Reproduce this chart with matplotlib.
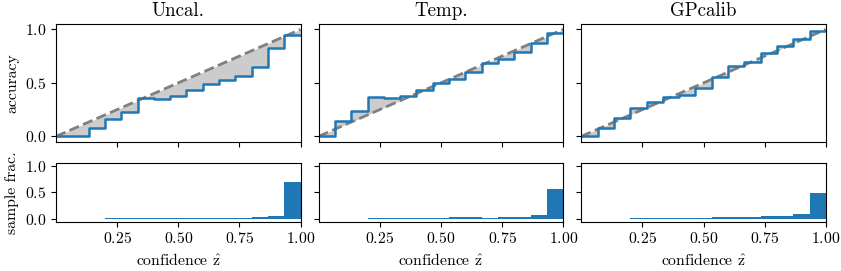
import numpy as np
import matplotlib
matplotlib.use('Agg')
import matplotlib.pyplot as plt

plt.rcParams['font.family'] = 'serif'
plt.rcParams['font.serif'] = ['cmr10']
plt.rcParams['mathtext.fontset'] = 'cm'
plt.rcParams['axes.formatter.use_mathtext'] = True
plt.rcParams['font.size'] = 11.3

# 15 equal-width confidence bins on [0, 1]
n_bins = 15
titles = ['Uncal.', 'Temp.', 'GPcalib']

# accuracy per bin
acc_uncal = [0.0, 0.0, 0.08, 0.16, 0.227, 0.354, 0.345, 0.38, 0.43, 0.49,
             0.525, 0.56, 0.65, 0.83, 0.945]
acc_temp = [0.0, 0.146, 0.233, 0.366, 0.357, 0.379, 0.429, 0.494, 0.54, 0.606,
            0.69, 0.72, 0.79, 0.87, 0.97]
acc_gp = [0.0, 0.078, 0.174, 0.267, 0.317, 0.366, 0.388, 0.45, 0.556, 0.658,
          0.696, 0.78, 0.845, 0.91, 0.984]

# fraction of samples per bin
frac_uncal = [0.0, 0.004, 0.006, 0.010, 0.011, 0.013, 0.016, 0.020, 0.022, 0.022,
              0.024, 0.026, 0.035, 0.06, 0.685]
frac_temp = [0.0, 0.005, 0.009, 0.011, 0.013, 0.016, 0.018, 0.025, 0.030, 0.030,
             0.028, 0.030, 0.045, 0.075, 0.556]
frac_gp = [0.0, 0.004, 0.009, 0.013, 0.015, 0.018, 0.022, 0.028, 0.04, 0.042,
           0.042, 0.05, 0.065, 0.10, 0.488]

accs = [acc_uncal, acc_temp, acc_gp]
fracs = [frac_uncal, frac_temp, frac_gp]

edges = np.linspace(0, 1, n_bins + 1)

fig, axes = plt.subplots(2, 3, figsize=(8.41, 2.71), dpi=100,
                         gridspec_kw={'height_ratios': [2, 1]},
                         sharex=True)
fig.subplots_adjust(left=0.0666, right=0.982, top=0.9114, bottom=0.1819,
                    wspace=0.074, hspace=0.24)

for j in range(3):
    ax = axes[0, j]
    acc = np.array(accs[j])
    # stepped curve as explicit points so the fill meets the straight diagonal
    xs = np.repeat(edges, 2)[1:-1]
    ys = np.repeat(acc, 2)
    ax.fill_between(xs, xs, ys, color='0.8', linewidth=0)
    ax.plot([0, 1], [0, 1], '--', color='0.5', linewidth=2)
    ax.plot(xs, ys, color='C0', linewidth=1.8)
    ax.set_xlim(0, 1)
    ax.set_ylim(-0.05, 1.05)
    ax.set_yticks([0, 0.5, 1.0])
    ax.set_title(titles[j], fontsize=13.6)

    bx = axes[1, j]
    bx.bar(edges[:-1], fracs[j], width=1 / n_bins, align='edge', color='C0')
    bx.set_ylim(-0.05, 1.05)
    bx.set_yticks([0, 0.5, 1.0])
    bx.set_xticks([0.25, 0.5, 0.75, 1.0])
    bx.set_xlabel(r'confidence $\hat{\mathrm{z}}$')

    if j > 0:
        ax.set_yticklabels([])
        bx.set_yticklabels([])

axes[0, 0].set_ylabel('accuracy')
axes[1, 0].set_ylabel('sample frac.')

fig.savefig('out.png', dpi=100)
